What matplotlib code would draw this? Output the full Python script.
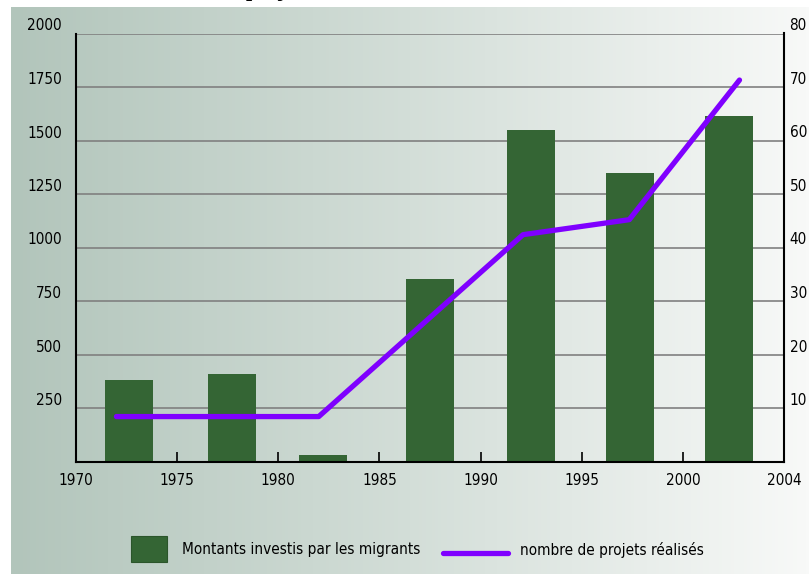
import matplotlib
matplotlib.use('Agg')
import matplotlib.pyplot as plt
import matplotlib.font_manager as fm
import numpy as np
from matplotlib.lines import Line2D
from matplotlib.patches import Rectangle
from matplotlib.colors import LinearSegmentedColormap

# data
periods = [1972.6, 1977.7, 1982.2, 1987.5, 1992.5, 1997.4, 2002.3]
montants = [381, 407, 29, 852, 1549, 1347, 1616]
proj_years = [1972.0, 1982.0, 1992.1, 1997.35, 2002.8]
projets = [8.4, 8.4, 42.4, 45.2, 71.3]

xticks = [1970, 1975, 1980, 1985, 1990, 1995, 2000, 2005]
xtick_labels = ['1970', '1975', '1980', '1985', '1990', '1995', '2000', '2004']
left_ticks = [250, 500, 750, 1000, 1250, 1500, 1750, 2000]
right_ticks = [10, 20, 30, 40, 50, 60, 70, 80]

green = '#346534'
purple = '#7f00ff'


# look for a narrow / condensed sans font, the original uses a very condensed face
def is_narrow(f):
    st = f.stretch
    if isinstance(st, str):
        narrow_st = 'condensed' in st
    else:
        narrow_st = st < 500
    return narrow_st or 'Narrow' in f.name or 'Condensed' in f.name


cands = [f for f in fm.fontManager.ttflist if is_narrow(f)]
cands.sort(key=lambda f: (f.style != 'normal',
                          abs((f.weight if isinstance(f.weight, int) else 400) - 400),
                          'Sans' not in f.name))
if cands:
    plt.rcParams['font.family'] = [cands[0].name, 'DejaVu Sans']
    plt.rcParams['font.stretch'] = cands[0].stretch
    tick_size, leg_size = 11, 11
else:
    plt.rcParams['font.family'] = ['DejaVu Sans']
    tick_size, leg_size = 9.5, 9

fig = plt.figure(figsize=(8.09, 5.74), dpi=100)

# gradient background
bg = fig.add_axes([11 / 809, 0, 798 / 809, 567 / 574], zorder=-10)
cmap = LinearSegmentedColormap.from_list('bg', ['#b2c5bb', '#d3ded8', '#f8f9f8'])
bg.imshow(np.linspace(0, 1, 256).reshape(1, -1), aspect='auto', cmap=cmap, extent=[0, 1, 0, 1])
bg.axis('off')

# cut-off title at the very top
fig.text(246 / 809, 1 + 4 / 574, 'projets', family='Liberation Serif', weight='bold',
         stretch='normal', fontsize=16, va='baseline', ha='left')

ax = fig.add_axes([76 / 809, 112.5 / 574, 708 / 809, 428 / 574])
ax.set_facecolor('none')
ax.bar(periods, montants, width=2.37, color=green, zorder=2)
ax.set_xlim(1970, 2005)
ax.set_ylim(0, 2000)
ax.set_xticks(xticks)
ax.set_xticklabels(xtick_labels)
ax.set_yticks(left_ticks)
ax.yaxis.grid(True, color='#808080', lw=1.2)
ax.set_axisbelow(True)
ax.tick_params(axis='y', length=0, pad=10, labelsize=tick_size)
ax.tick_params(axis='x', direction='in', length=7, width=1.2, pad=8, labelsize=tick_size)
ax.spines['top'].set_visible(False)
ax.spines['right'].set_visible(False)
for s in ['left', 'bottom']:
    ax.spines[s].set_linewidth(1.5)
    ax.spines[s].set_color('black')
plt.setp(ax.get_yticklabels(), va='bottom')

ax2 = ax.twinx()
ax2.plot(proj_years, projets, color=purple, lw=3.8, solid_capstyle='round')
ax2.set_ylim(0, 80)
ax2.set_yticks(right_ticks)
ax2.tick_params(axis='y', length=0, pad=4, labelsize=tick_size)
ax2.spines['top'].set_visible(False)
ax2.spines['left'].set_visible(False)
ax2.spines['bottom'].set_visible(False)
ax2.spines['right'].set_linewidth(1.5)
plt.setp(ax2.get_yticklabels(), va='bottom')

# legend drawn by hand
fig.add_artist(Rectangle((131 / 809, 12 / 574), 36 / 809, 26 / 574, transform=fig.transFigure,
                         facecolor=green, edgecolor='#2b552b', lw=0.8))
fig.text(182 / 809, 1 - 549.5 / 574, 'Montants investis par les migrants', va='center',
         ha='left', fontsize=leg_size)
fig.add_artist(Line2D([443 / 809, 508 / 809], [1 - 553 / 574] * 2, transform=fig.transFigure,
                      color=purple, lw=3.8, solid_capstyle='round'))
fig.text(520 / 809, 1 - 549.5 / 574, 'nombre de projets réalisés', va='center',
         ha='left', fontsize=leg_size)

fig.savefig('out.png', dpi=100)
